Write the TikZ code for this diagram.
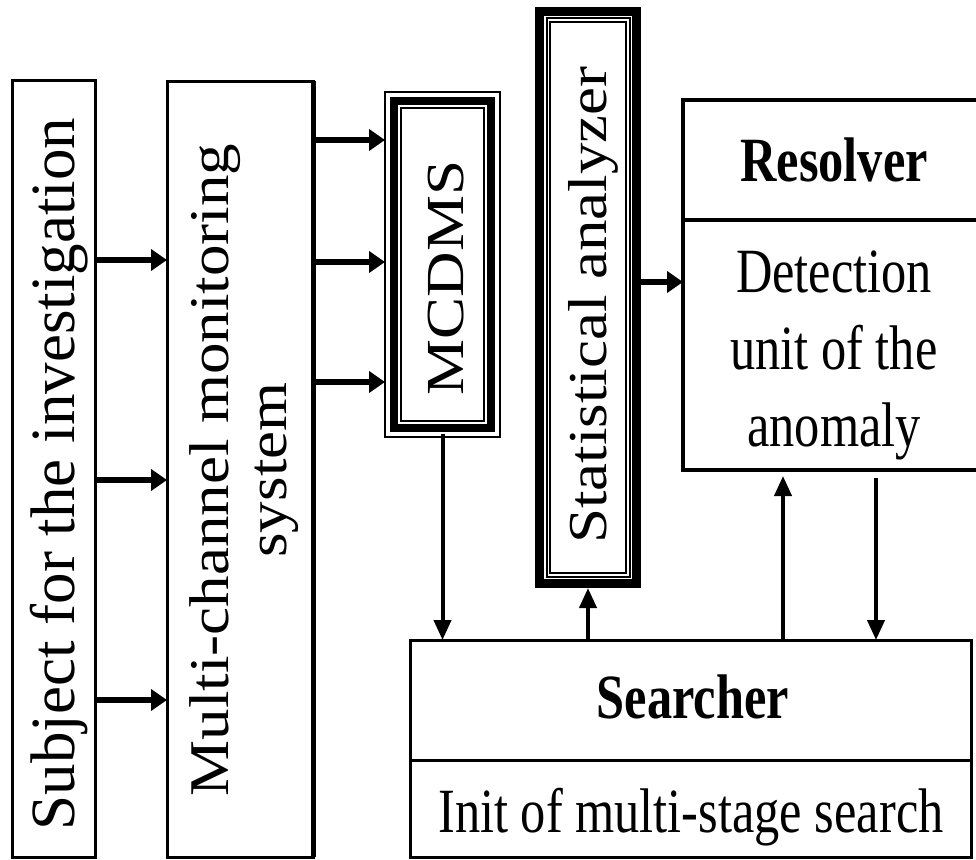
\documentclass[tikz,border=0pt]{standalone}
\usepackage{fontspec}
\setmainfont{Liberation Serif}
\newfontfamily\condfont[FakeStretch=0.8]{Liberation Serif}
\usetikzlibrary{arrows.meta}
\begin{document}
\begin{tikzpicture}[x=1pt,y=-1pt,
  box/.style={draw, line width=3pt, inner sep=0pt, outer sep=0pt},
  plainbox/.style={inner sep=0pt, outer sep=0pt},
  harr/.style={line width=6.5pt, -{Triangle[length=16pt,width=21pt]}},
  varr/.style={line width=4pt, -{Triangle[length=20pt,width=17pt]}},
  big/.style={font=\fontsize{63}{77}\selectfont, inner sep=0pt},
  cond/.style={font=\fontsize{63}{77}\selectfont\condfont, inner sep=0pt},
]
\useasboundingbox (0,0) rectangle (976,859);
\fill[white] (0,0) rectangle (976,859);

% boxes
\node[box, minimum width=83pt, minimum height=777pt] (subj) at (53.5,468.5) {};
\node[box, minimum width=146pt, minimum height=776pt] (multi) at (240,469) {};
\draw[line width=5pt] (multi.north east) -- (multi.south east);

\node[plainbox, draw, line width=2.5pt, minimum width=115pt, minimum height=345pt] (mcdms) at (442.5,264.5) {};
\draw[line width=8.5pt] ([shift={(9,9)}]mcdms.north west) rectangle ([shift={(-9,-9)}]mcdms.south east);
\draw[line width=2pt] ([shift={(16,16)}]mcdms.north west) rectangle ([shift={(-16,-16)}]mcdms.south east);

\node[plainbox, minimum width=106pt, minimum height=581pt] (stat) at (588,297.5) {};
\draw[line width=9pt] ([shift={(4.5,4.5)}]stat.north west) rectangle ([shift={(-4.5,-4.5)}]stat.south east);
\draw[line width=2pt] ([shift={(11.5,11.5)}]stat.north west) rectangle ([shift={(-11.5,-11.5)}]stat.south east);
\draw[line width=1.8pt] ([shift={(15,15)}]stat.north west) rectangle ([shift={(-15,-15)}]stat.south east);

\node[box, line width=3.5pt, minimum width=295pt, minimum height=370pt] (resolver) at (830.5,285) {};
\draw[line width=3.5pt] (resolver.west |- 0,220) -- (resolver.east |- 0,220);

\node[box, minimum width=561pt, minimum height=217pt] (searcher) at (690.5,748.5) {};
\draw[line width=3pt] (searcher.west |- 0,760) -- (searcher.east |- 0,760);

% texts
\node[big, rotate=90] (subjt) at (59,474) {Subject for the investigation};
\node[big, rotate=90] (multit) at (246,470) {\scalebox{1}[0.89]{\fontsize{63}{65}\selectfont\begin{tabular}{@{}c@{}}Multi-channel monitoring\\system\end{tabular}}};
\node[big, rotate=90] (mcdmst) at (446,278) {\scalebox{1}[0.85]{MCDMS}};
\node[big, rotate=90] (statt) at (593,305) {\scalebox{1}[0.87]{Statistical analyzer}};
\node[cond] (rest) at (834,160) {\bfseries Resolver};
\node[cond, align=center] (dett) at (834,355) {Detection\\unit of the\\anomaly};
\node[cond] (searcht) at (693,697) {\bfseries Searcher};
\node[cond] (initt) at (691,817) {Init of multi-stage search};

% connectors
\draw[harr] (subj.east |- 0,260) -- (multi.west |- 0,260);
\draw[harr] (subj.east |- 0,480) -- (multi.west |- 0,480);
\draw[harr] (subj.east |- 0,700) -- (multi.west |- 0,700);
\draw[harr] (multi.east |- 0,140) -- (mcdms.west |- 0,140);
\draw[harr] (multi.east |- 0,262) -- (mcdms.west |- 0,262);
\draw[harr] (multi.east |- 0,382) -- (mcdms.west |- 0,382);
\draw[varr] ([yshift=3pt]mcdms.south) -- (searcher.north -| mcdms.south);
\draw[varr] (searcher.north -| stat.south) -- (stat.south);
\draw[harr] (stat.east |- 0,282) -- (resolver.west |- 0,282);
\draw[varr] (searcher.north -| 783,0) -- ([yshift=-6pt]resolver.south -| 783,0);
\draw[varr] ([yshift=-8pt]resolver.south -| 876,0) -- (searcher.north -| 876,0);
\end{tikzpicture}
\end{document}
